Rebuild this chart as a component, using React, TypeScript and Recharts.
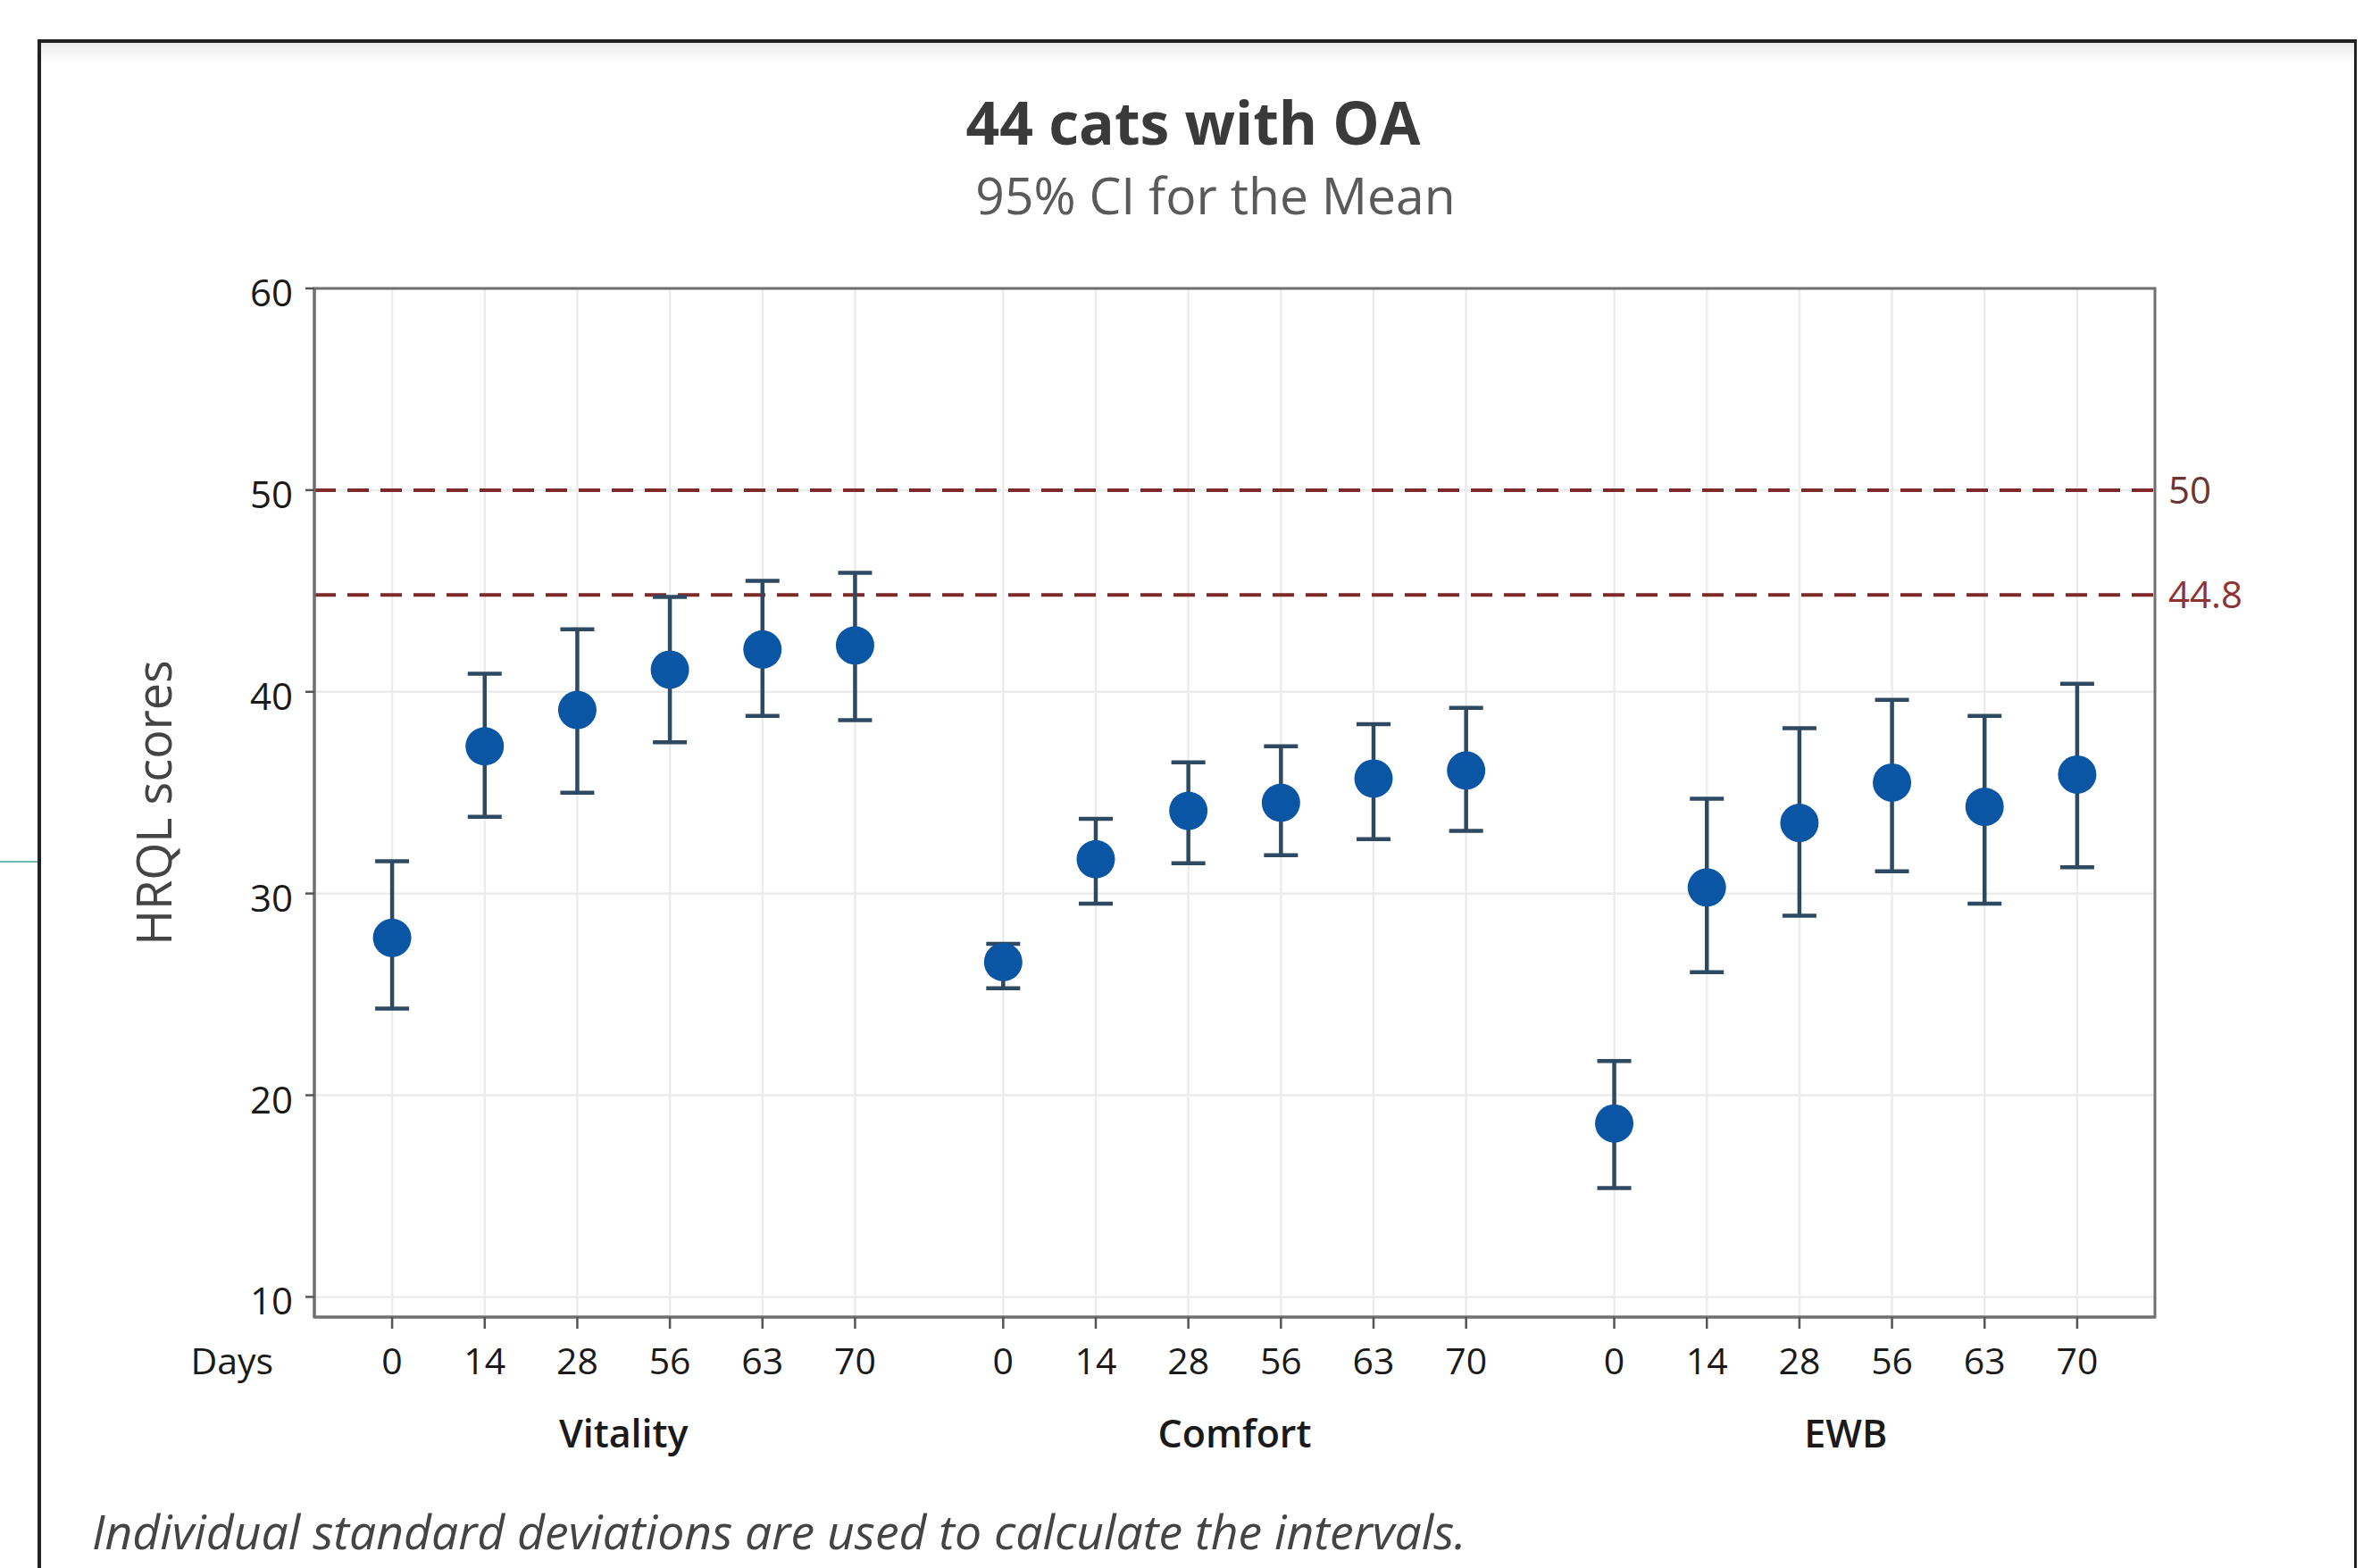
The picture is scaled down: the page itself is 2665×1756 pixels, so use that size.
import React from 'react';
import {
  ScatterChart,
  Scatter,
  XAxis,
  YAxis,
  CartesianGrid,
  ReferenceLine,
  ReferenceArea,
  ErrorBar,
} from 'recharts';

const groups = ['Vitality', 'Comfort', 'EWB'];
const days = ['0', '14', '28', '56', '63', '70'];

const vitalityMean = [27.8, 37.3, 39.1, 41.1, 42.1, 42.3];
const vitalityLower = [24.3, 33.8, 35.0, 37.5, 38.8, 38.6];
const vitalityUpper = [31.6, 40.9, 43.1, 44.7, 45.5, 45.9];

const comfortMean = [26.6, 31.7, 34.1, 34.5, 35.7, 36.1];
const comfortLower = [25.3, 29.5, 31.5, 31.9, 32.7, 33.1];
const comfortUpper = [27.5, 33.7, 36.5, 37.3, 38.4, 39.2];

const ewbMean = [18.6, 30.3, 33.5, 35.5, 34.3, 35.9];
const ewbLower = [15.4, 26.1, 28.9, 31.1, 29.5, 31.3];
const ewbUpper = [21.7, 34.7, 38.2, 39.6, 38.8, 40.4];

const yTicks = [10, 20, 30, 40, 50, 60];
const refLines = [50, 44.8];

const GROUP_STRIDE = 6.6;
const X_DOMAIN: [number, number] = [-0.84, 2 * GROUP_STRIDE + 5 + 0.84];
const Y_DOMAIN: [number, number] = [9, 60];

const means = [vitalityMean, comfortMean, ewbMean];
const lowers = [vitalityLower, comfortLower, ewbLower];
const uppers = [vitalityUpper, comfortUpper, ewbUpper];

const data = groups.flatMap((group, gi) =>
  days.map((day, di) => ({
    x: gi * GROUP_STRIDE + di,
    day,
    group,
    mean: means[gi][di],
    err: [means[gi][di] - lowers[gi][di], uppers[gi][di] - means[gi][di]],
  }))
);

const dayTicks = data.map((d) => d.x);
const groupTicks = groups.map((_, gi) => gi * GROUP_STRIDE + 2.5);
// invisible anchor points so the group-name axis gets drawn
const groupAnchors = groups.map((group, gi) => ({ x: groupTicks[gi], mean: Y_DOMAIN[0], group }));

const FONT = '"Open Sans", "Noto Sans", sans-serif';

function dayLabel(v: number) {
  const hit = data.find((d) => Math.abs(d.x - v) < 0.01);
  return hit ? hit.day : '';
}

function groupLabel(v: number) {
  const gi = groupTicks.findIndex((t) => Math.abs(t - v) < 0.01);
  return gi >= 0 ? groups[gi] : '';
}

const DayTick = (props: any) => {
  const { x, y, payload, index } = props;
  return (
    <g>
      <text x={x} y={y} dy="0.71em" textAnchor="middle" fontSize={41} fontWeight={500} fill="#1a1a1a" fontFamily={FONT}>
        {dayLabel(payload.value)}
      </text>
      {index === 0 && (
        <text x={x - 133} y={y} dy="0.71em" textAnchor="end" fontSize={41} fontWeight={500} fill="#1a1a1a" fontFamily={FONT}>
          Days
        </text>
      )}
    </g>
  );
};

const YTick = (props: any) => {
  const { x, y, payload } = props;
  return (
    <text x={x} y={y} dy={20} textAnchor="end" fontSize={42} fontWeight={500} fill="#1a1a1a" fontFamily={FONT}>
      {payload.value}
    </text>
  );
};

const Dot = (props: any) => <circle cx={props.cx} cy={props.cy} r={21.5} fill="#0b55a5" />;
const Hidden = () => <g />;

export default function App() {
  return (
    <div
      style={{
        position: 'absolute',
        left: 0,
        top: 0,
        width: 2665,
        height: 1756,
        background: '#fff',
        overflow: 'hidden',
        fontFamily: FONT,
      }}
    >
      {/* slide frame */}
      <div
        style={{
          position: 'absolute',
          left: 42,
          top: 44,
          width: 2590,
          height: 1800,
          borderTop: '4px solid #222',
          borderLeft: '4px solid #222',
          borderRight: '3px solid #222',
        }}
      >
        <div style={{ height: 24, background: 'linear-gradient(#ececec, #fff)' }} />
      </div>
      <div style={{ position: 'absolute', left: 0, top: 964, width: 42, height: 2, background: '#6fbcae' }} />

      <div
        style={{
          position: 'absolute',
          left: 736,
          width: 1200,
          top: 103,
          textAlign: 'center',
          fontSize: 66,
          lineHeight: 1,
          fontWeight: 700,
          color: '#3a3a3a',
          zIndex: 2,
        }}
      >
        44 cats with OA
      </div>
      <div
        style={{
          position: 'absolute',
          left: 761,
          width: 1200,
          top: 190,
          textAlign: 'center',
          fontSize: 57,
          lineHeight: 1,
          color: '#5a5a5a',
          zIndex: 2,
        }}
      >
        95% CI for the Mean
      </div>
      <div
        style={{
          position: 'absolute',
          left: 103,
          top: 1688,
          fontSize: 53.5,
          lineHeight: 1,
          fontStyle: 'italic',
          color: '#444',
          whiteSpace: 'nowrap',
          zIndex: 2,
        }}
      >
        Individual standard deviations are used to calculate the intervals.
      </div>

      <div style={{ position: 'absolute', left: 0, top: 0 }}>
        <ScatterChart width={2665} height={1756} margin={{ top: 323, right: 252, bottom: 111, left: 0 }}>
          <CartesianGrid stroke="#ececec" strokeWidth={2.5} />
          <XAxis
            type="number"
            dataKey="x"
            domain={X_DOMAIN}
            ticks={dayTicks}
            interval={0}
            allowDataOverflow
            height={90}
            tickSize={13}
            tickMargin={22}
            tick={<DayTick />}
            tickLine={{ stroke: '#555', strokeWidth: 2.5 }}
            axisLine={{ stroke: '#707070', strokeWidth: 3 }}
          />
          <XAxis
            xAxisId="grp"
            type="number"
            dataKey="x"
            domain={X_DOMAIN}
            ticks={groupTicks}
            interval={0}
            allowDataOverflow
            height={80}
            tickSize={0}
            tickMargin={25}
            tickLine={false}
            axisLine={false}
            tickFormatter={groupLabel}
            tick={{ fontSize: 43, fontWeight: 600, fill: '#1a1a1a', fontFamily: FONT }}
          />
          <YAxis
            type="number"
            dataKey="mean"
            domain={Y_DOMAIN}
            ticks={yTicks}
            interval={0}
            allowDataOverflow
            width={352}
            tickSize={10}
            tickMargin={14}
            tick={<YTick />}
            tickLine={{ stroke: '#555', strokeWidth: 2.5 }}
            axisLine={{ stroke: '#707070', strokeWidth: 3 }}
            label={{
              value: 'HRQL scores',
              angle: -90,
              position: 'center',
              dx: -3,
              fontSize: 54,
              fill: '#444',
              fontFamily: FONT,
            }}
          />
          <ReferenceArea
            x1={X_DOMAIN[0]}
            x2={X_DOMAIN[1]}
            y1={Y_DOMAIN[0]}
            y2={Y_DOMAIN[1]}
            fill="none"
            stroke="#707070"
            strokeWidth={3}
            ifOverflow="visible"
          />
          {refLines.map((v) => (
            <ReferenceLine
              key={v}
              y={v}
              stroke="#7e2a2a"
              strokeWidth={4}
              strokeDasharray="24 13"
              label={{
                value: String(v),
                position: 'right',
                offset: 15,
                fontSize: 42,
                fill: v === 50 ? '#6a3535' : '#8e3232',
                fontFamily: FONT,
              }}
            />
          ))}
          <Scatter xAxisId="grp" data={groupAnchors} shape={<Hidden />} isAnimationActive={false} />
          <Scatter data={data} shape={<Dot />} isAnimationActive={false}>
            <ErrorBar dataKey="err" direction="y" width={19} strokeWidth={4.5} stroke="#2e4a62" />
          </Scatter>
        </ScatterChart>
      </div>
    </div>
  );
}
